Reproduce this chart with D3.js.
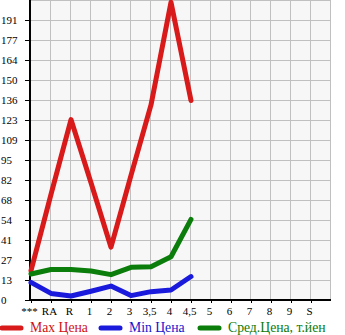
<!DOCTYPE html>
<html><head><meta charset="utf-8">
<script src="https://cdn.jsdelivr.net/npm/d3@7"></script>
<style>body{margin:0;background:#fff}svg{display:block}</style>
</head><body>
<script>
const categories = ["***","RA","R","1","2","3","3,5","4","4,5","5","6","7","8","9","S"];
const maxPrice = [20, 72, 123, 80, 36, 85, 133, 203, 136];
const minPrice = [12, 4.5, 2.7, 6, 9.5, 3, 5.7, 6.8, 16];
const avgPrice = [17.7, 20.8, 20.8, 19.8, 17.3, 22.3, 22.7, 29.5, 55];
const yTickLabels = ["0","13","27","41","54","68","82","95","109","123","136","150","164","177","191"];
const yMax = 150/11*15;
const seriesNames = ["Max Цена","Min Цена","Сред.Цена, т.йен"];
const colors = ["#d81a1a","#1a1adc","#0a7d0a"];
const textColors = ["#d01010","#1515cc","#0a7a0a"];

(function(){
const W=345,H=335;
const svg=d3.select("body").append("svg").attr("width",W).attr("height",H);
const pLeft=31, pRight=331, pTop=0, pBottom=300;
const x=d3.scalePoint().domain(categories).range([pLeft, pLeft+20*(categories.length-1)]);
const y=d3.scaleLinear().domain([0,yMax]).range([pBottom,pTop]);

svg.append("rect").attr("x",pLeft).attr("y",pTop).attr("width",pRight-pLeft).attr("height",pBottom-pTop).attr("fill","#f7f7f7");
const g=svg.append("g");
const yTicks=yTickLabels.map((_,i)=>i*150/11);
yTicks.concat([yMax]).forEach(v=>{
  g.append("line").attr("x1",pLeft).attr("x2",pRight).attr("y1",Math.round(y(v))+0.5).attr("y2",Math.round(y(v))+0.5).attr("stroke","#c0c0c0").attr("stroke-width",1);
});
categories.concat(["_end"]).forEach((c,i)=>{
  const xx=pLeft+20*i;
  g.append("line").attr("x1",xx-0.5).attr("x2",xx-0.5).attr("y1",pTop).attr("y2",pBottom).attr("stroke","#c0c0c0");
});
const yAxis=d3.axisLeft(y).tickValues(yTicks).tickFormat((d,i)=>yTickLabels[i]).tickSize(5).tickPadding(9);
const ya=svg.append("g").attr("transform",`translate(${pLeft-1},0)`).call(yAxis);
ya.select(".domain").remove();
ya.selectAll("line").attr("stroke","#000");
ya.selectAll("text").attr("font-family","Liberation Serif").attr("font-size",11).attr("fill","#000")
  .attr("text-anchor","start").attr("x",-(pLeft-1)+1);
svg.append("line").attr("x1",pLeft-1).attr("x2",pLeft-1).attr("y1",pTop).attr("y2",pBottom+1).attr("stroke","#000").attr("stroke-width",2);
const xAxis=d3.axisBottom(x).tickSize(3).tickPadding(4);
const xa=svg.append("g").attr("transform",`translate(0,${pBottom})`).call(xAxis);
xa.select(".domain").remove();
xa.selectAll("line").attr("stroke","#000");
xa.selectAll("text").attr("font-family","Liberation Serif").attr("font-size",11).attr("fill","#000").attr("dx",-2);
svg.append("line").attr("x1",pLeft-2).attr("x2",pRight).attr("y1",pBottom).attr("y2",pBottom).attr("stroke","#000").attr("stroke-width",2);

const line=d3.line().x((d,i)=>x(categories[i])).y(d=>y(d));
[maxPrice,minPrice,avgPrice].forEach((s,k)=>{
  svg.append("path").attr("d",line(s)).attr("fill","none").attr("stroke",colors[k]).attr("stroke-width",5).attr("stroke-linejoin","round").attr("stroke-linecap","round");
});
const lx=[2,101,200];
seriesNames.forEach((n,k)=>{
  svg.append("line").attr("x1",lx[k]).attr("x2",lx[k]+19).attr("y1",328).attr("y2",328).attr("stroke",colors[k]).attr("stroke-width",5).attr("stroke-linecap","round");
  svg.append("text").attr("x",lx[k]+28).attr("y",332).attr("font-family","Liberation Serif").attr("font-size",13.7).attr("fill",textColors[k]).text(n);
});
})();
</script>
</body></html>
